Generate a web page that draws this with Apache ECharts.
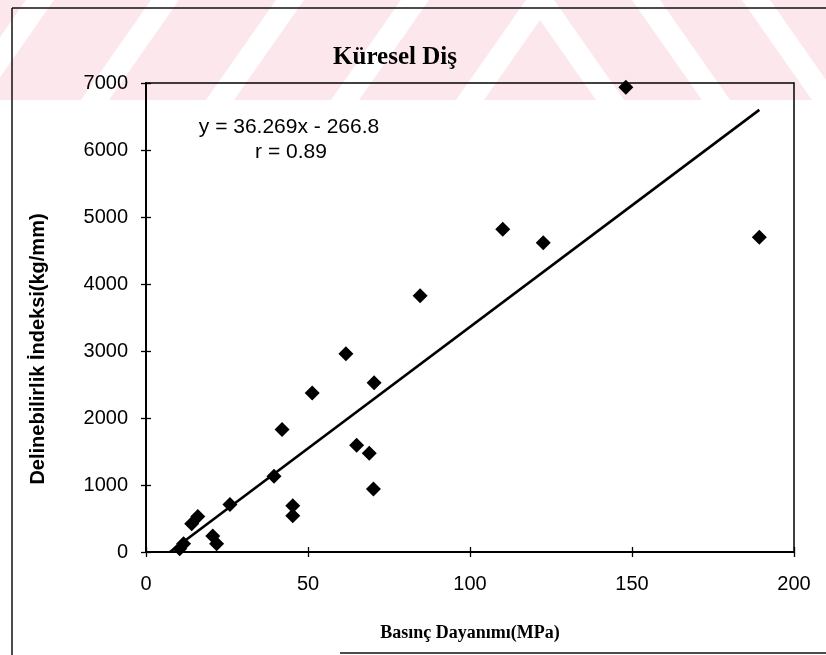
<!DOCTYPE html>
<html><head><meta charset="utf-8">
<script src="https://cdn.jsdelivr.net/npm/echarts@6/dist/echarts.min.js"></script>
<style>html,body{margin:0;padding:0;background:#fff}#c{width:826px;height:655px}</style>
</head><body><div id="c"></div>
<script>
// ---- data ----
const chartTitle = 'Küresel Diş';
const xAxisName = 'Basınç Dayanımı(MPa)';
const yAxisName = 'Delinebilirlik İndeksi(kg/mm)';
const strength =     [10.4, 11.6, 14.1, 16.0, 20.6, 21.8, 25.9, 39.5, 42.0, 45.3, 45.3, 51.3, 61.7, 65.0, 68.9, 70.2, 70.4, 84.6, 110.1, 122.6, 148.1, 189.3];
const drillability = [50,   125,  420,  530,  240,  125,  710,  1130, 1830, 690,  540,  2375, 2960, 1595, 1473, 940,  2525, 3825, 4816,  4616,  6936,  4697];
const slope = 36.269;
const intercept = -266.8;
const rValue = 0.89;
const trendX = [7.36, 189.3];
const xTicks = [0, 50, 100, 150, 200];
const yTicks = [0, 1000, 2000, 3000, 4000, 5000, 6000, 7000];

const points = strength.map((x, i) => [x, drillability[i]]);
const trend = trendX.map(x => [x, slope * x + intercept]);
const eqText = 'y = ' + slope + 'x - ' + Math.abs(intercept);
const rText = 'r = ' + rValue;

// decorative watermark band (background only)
const pink = '#fce8ec';
const wm = [{type: 'rect', z: -110, silent: true, shape: {x: 0, y: 0, width: 826, height: 100}, style: {fill: pink}}];
function gap(pts) { wm.push({type: 'polygon', z: -100, silent: true, shape: {points: pts}, style: {fill: '#fff'}}); }
[526, 401, 276, 151, 26].forEach(g => gap([[g,0],[g+28,0],[g-42,100],[g-70,100]]));
[526, 632, 742].forEach(h => gap([[h,0],[h+28,0],[h+98,100],[h+70,100]]));

const sans = 'Liberation Sans, Arial, sans-serif';
const serif = 'Liberation Serif, Times New Roman, serif';

const chart = echarts.init(document.getElementById('c'));
chart.setOption({
  backgroundColor: '#fff',
  animation: false,
  grid: {left: 146, right: 32, top: 83, bottom: 103, show: true, borderColor: '#000', borderWidth: 1.5, backgroundColor: 'transparent'},
  xAxis: [{
    type: 'value', min: xTicks[0], max: xTicks[xTicks.length - 1], interval: xTicks[1] - xTicks[0],
    position: 'bottom',
    axisLine: {show: true, onZero: false, lineStyle: {color: '#000', width: 2.2}},
    axisTick: {show: true, length: 5, lineStyle: {color: '#000', width: 1.3}},
    axisLabel: {color: '#000', fontSize: 20, fontFamily: sans, margin: 22, formatter: v => String(v)},
    splitLine: {show: false},
    name: xAxisName, nameLocation: 'middle', nameGap: 72,
    nameTextStyle: {color: '#000', fontFamily: serif, fontWeight: 'bold', fontSize: 18}
  }, {
    type: 'value', min: xTicks[0], max: xTicks[xTicks.length - 1], interval: xTicks[1] - xTicks[0],
    position: 'bottom',
    axisLine: {show: false},
    axisTick: {show: true, inside: true, length: 5, lineStyle: {color: '#000', width: 1.3}},
    axisLabel: {show: false}, splitLine: {show: false}
  }],
  yAxis: [{
    type: 'value', min: yTicks[0], max: yTicks[yTicks.length - 1], interval: yTicks[1] - yTicks[0],
    position: 'left',
    axisLine: {show: true, onZero: false, lineStyle: {color: '#000', width: 2}},
    axisTick: {show: true, length: 5, lineStyle: {color: '#000', width: 1.3}},
    axisLabel: {color: '#000', fontSize: 20, fontFamily: sans, margin: 18, formatter: v => String(v)},
    splitLine: {show: false}
  }, {
    type: 'value', min: yTicks[0], max: yTicks[yTicks.length - 1], interval: yTicks[1] - yTicks[0],
    position: 'left',
    axisLine: {show: false},
    axisTick: {show: true, inside: true, length: 5, lineStyle: {color: '#000', width: 1.3}},
    axisLabel: {show: false}, splitLine: {show: false}
  }],
  graphic: wm.concat([
    {type: 'text', z: 100, x: 395, y: 58, style: {text: chartTitle, align: 'center', verticalAlign: 'middle', fontFamily: serif, fontWeight: 'bold', fontSize: 25, fill: '#000'}},
    {type: 'text', z: 100, x: 38, y: 349, rotation: Math.PI / 2, style: {text: yAxisName, align: 'center', verticalAlign: 'middle', fontFamily: sans, fontWeight: 'bold', fontSize: 20, fill: '#000'}},
    {type: 'text', z: 100, x: 289, y: 127, style: {text: eqText, align: 'center', verticalAlign: 'middle', fontFamily: sans, fontSize: 21, fill: '#000'}},
    {type: 'text', z: 100, x: 291, y: 152, style: {text: rText, align: 'center', verticalAlign: 'middle', fontFamily: sans, fontSize: 21, fill: '#000'}},
    {type: 'line', z: 100, shape: {x1: 12, y1: 8, x2: 826, y2: 8}, style: {stroke: '#111', lineWidth: 1.5}},
    {type: 'line', z: 100, shape: {x1: 12, y1: 8, x2: 12, y2: 655}, style: {stroke: '#111', lineWidth: 1.5}},
    {type: 'line', z: 100, shape: {x1: 340, y1: 653, x2: 826, y2: 653}, style: {stroke: '#111', lineWidth: 1.5}}
  ]),
  series: [{
    type: 'line', xAxisIndex: 0, yAxisIndex: 0, data: trend, symbol: 'none',
    lineStyle: {color: '#000', width: 2.6}, z: 2, silent: true
  }, {
    type: 'scatter', xAxisIndex: 0, yAxisIndex: 0, data: points, symbol: 'diamond', symbolSize: [15, 15],
    itemStyle: {color: '#000', opacity: 1}, z: 3
  }]
});
</script>
</body></html>
